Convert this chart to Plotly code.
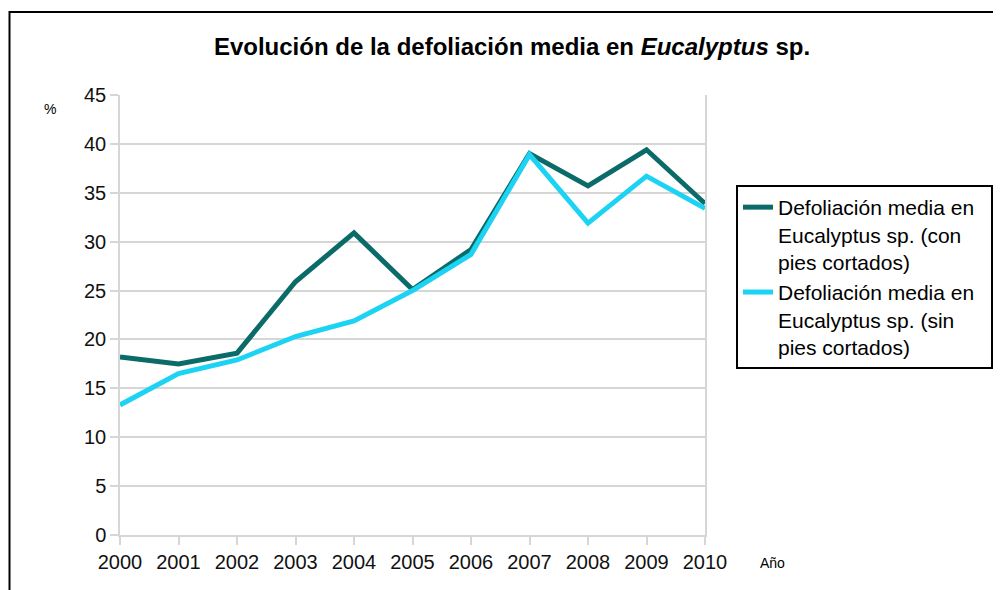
import plotly.graph_objects as go

years = [2000, 2001, 2002, 2003, 2004, 2005, 2006, 2007, 2008, 2009, 2010]
con_pies = [18.2, 17.5, 18.6, 25.9, 30.9, 25.1, 29.2, 39.0, 35.7, 39.4, 33.9]
sin_pies = [13.3, 16.5, 17.9, 20.3, 21.9, 25.0, 28.7, 38.9, 31.9, 36.7, 33.4]
y_ticks = [0, 5, 10, 15, 20, 25, 30, 35, 40, 45]

NB = "\u00a0"
name_con = "Defoliación media en" + NB * 2 + "<br>Eucalyptus sp. (con<br>pies cortados)"
name_sin = "Defoliación media en" + NB * 2 + "<br>Eucalyptus sp. (sin<br>pies cortados)"

FONT = "Liberation Sans, Arial, sans-serif"
GRID = "#d6d6d6"

# The page body has an 8px margin; figure is sized so that it fills the 1001x590 window.
OFF = 8
W, H = 1001 - OFF, 590 - OFF

fig = go.Figure()
fig.add_trace(go.Scatter(x=years, y=con_pies, mode="lines", name=name_con,
                         line=dict(color="#0b6b68", width=5)))
fig.add_trace(go.Scatter(x=years, y=sin_pies, mode="lines", name=name_sin,
                         line=dict(color="#1dd3f3", width=5)))

fig.update_layout(
    width=W, height=H,
    margin=dict(l=120 - OFF, r=W - (705 - OFF), t=95 - OFF, b=H - (535 - OFF), autoexpand=False),
    paper_bgcolor="white", plot_bgcolor="white",
    font=dict(family=FONT, color="black"),
    title=dict(text="<b>Evolución de la defoliación media en <i>Eucalyptus</i> sp.</b>",
               x=(512 - OFF) / W, xanchor="center", y=1 - (47 - OFF) / H, yanchor="middle",
               font=dict(size=24, family=FONT, color="black")),
    showlegend=True,
    legend=dict(x=(736 - 120) / 585, xanchor="left", y=(535 - 185) / 440, yanchor="top",
                bordercolor="black", borderwidth=2, bgcolor="white",
                font=dict(size=21, family=FONT, color="black"),
                valign="top", tracegroupgap=0),
    xaxis=dict(range=[2000, 2010], tickvals=years, ticktext=[str(y) for y in years],
               showgrid=False, zeroline=False, showline=True, linecolor=GRID, linewidth=1.5,
               ticks="outside", ticklen=8, tickcolor=GRID, tickwidth=1.5,
               tickfont=dict(size=20, family=FONT, color="#111111")),
    yaxis=dict(range=[0, 45], tickvals=y_ticks, showgrid=True, gridcolor=GRID, gridwidth=1.5,
               zeroline=False, showline=True, linecolor=GRID, linewidth=1.5, mirror=True,
               ticks="outside", ticklen=8, tickcolor=GRID, tickwidth=1.5,
               tickfont=dict(size=20, family=FONT, color="#111111")),
    shapes=[dict(type="rect", xref="paper", yref="paper",
                 x0=(9.5 - 120) / 585, x1=(1010 - 120) / 585,
                 y0=(535 - 600) / 440, y1=(535 - 12) / 440,
                 line=dict(color="black", width=2), fillcolor="rgba(0,0,0,0)", layer="below")],
    annotations=[
        dict(text="%", xref="paper", yref="paper", x=(50 - 120) / 585, y=(535 - 109) / 440,
             xanchor="center", yanchor="middle", showarrow=False,
             font=dict(size=14, family=FONT, color="black")),
        dict(text="Año", xref="paper", yref="paper", x=(772 - 120) / 585, y=(535 - 563) / 440,
             xanchor="center", yanchor="middle", showarrow=False,
             font=dict(size=14, family=FONT, color="black")),
    ],
)

fig.write_html("out.html")
